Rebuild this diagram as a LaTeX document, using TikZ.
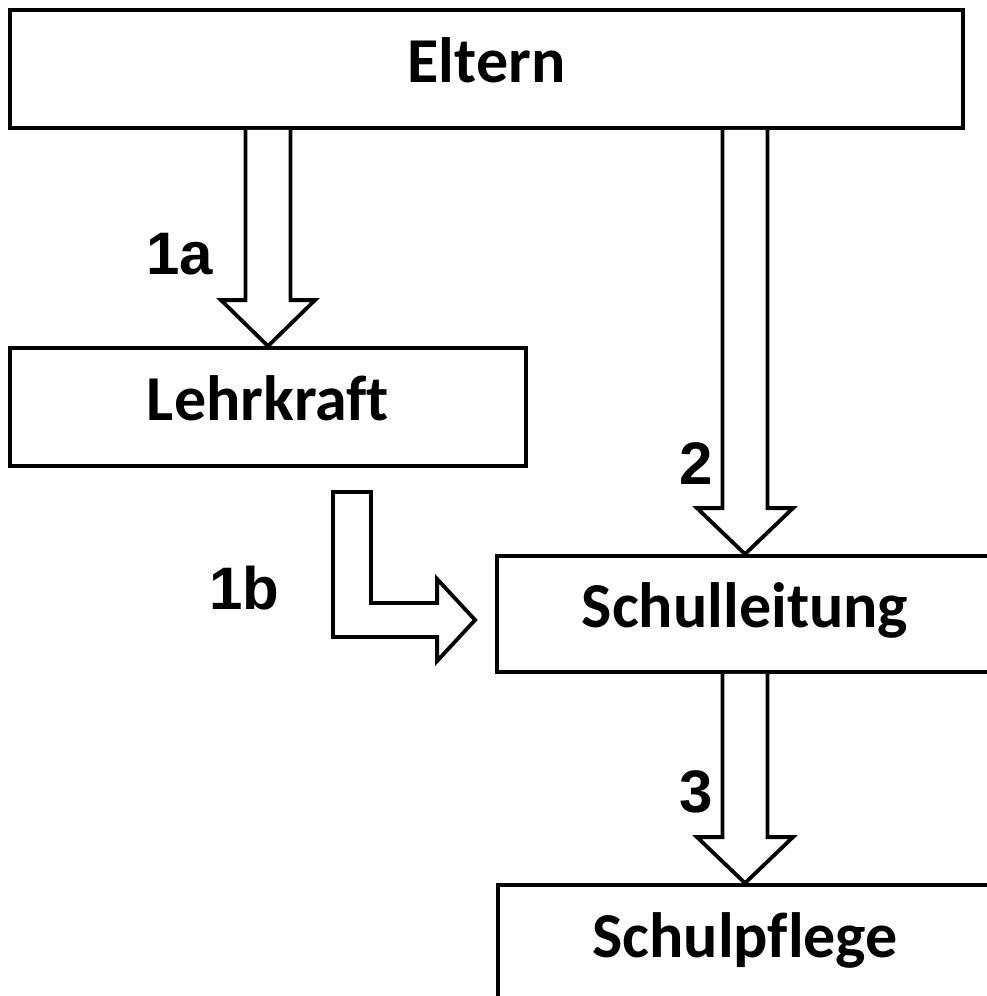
\documentclass[tikz,border=0pt]{standalone}
\usepackage{fontspec}
\setmainfont[Ligatures=NoCommon]{Carlito}
\newfontfamily\labfont{Liberation Sans}
\usetikzlibrary{calc}
\newcommand\varrow[5]{%
  \draw[barrow] let \p1=(#1), \p2=(#2) in
  (\x1-#3,\y1) -- (\x1-#3,\y2+#5) -- (\x1-#4,\y2+#5) -- (\x2,\y2)
  -- (\x1+#4,\y2+#5) -- (\x1+#3,\y2+#5) -- (\x1+#3,\y1);}
\begin{document}
\begin{tikzpicture}[x=1pt,y=-1pt,
  box/.style={draw, line width=3.8pt, fill=white,
    font=\bfseries\fontsize{64}{76}\selectfont,
    text height=40pt, text depth=13pt, inner sep=0pt},
  barrow/.style={draw, line width=3.8pt, fill=white, line join=miter},
  lab/.style={font=\labfont\bfseries\fontsize{60}{70}\selectfont,
    inner sep=0pt, anchor=base west}]
\useasboundingbox (0,0) rectangle (987,996);
\clip (0,0) rectangle (987,996);
\fill[white] (0,0) rectangle (987,996);

\node[box, minimum width=953pt, minimum height=118pt] (eltern) at (486.5,69) {Eltern};
\node[box, minimum width=516pt, minimum height=118pt] (lehr) at (268,407) {Lehrkraft};
\node[box, minimum width=496pt, minimum height=116pt] (sl) at (745,614) {Schulleitung};
\node[box, minimum width=494pt, minimum height=118pt] (sp) at (745,944) {Schulpflege};

\coordinate (a1s) at (eltern.south -| lehr.north);
\varrow{a1s}{lehr.north}{22.5pt}{47pt}{46pt}
\coordinate (a2s) at (eltern.south -| sl.north);
\varrow{a2s}{sl.north}{22.5pt}{48pt}{46pt}
\varrow{sl.south}{sp.north}{22.5pt}{48pt}{46pt}

\coordinate (b1s) at ($(lehr.south)+(84,24)$);
\coordinate (b1e) at ($(sl.west)+(-20,6)$);
\draw[barrow] let \p1=(b1s), \p2=(b1e) in
  (\x1-19pt,\y1) -- (\x1-19pt,\y2-17pt) -- (\x2-38pt,\y2-17pt)
  -- (\x2-38pt,\y2-41pt) -- (\x2,\y2) -- (\x2-38pt,\y2+41pt)
  -- (\x2-38pt,\y2+17pt) -- (\x1+19pt,\y2+17pt) -- (\x1+19pt,\y1) -- cycle;

\node[lab] (l1a) at (146,274) {1a};
\node[lab] (l2) at (679,484) {2};
\node[lab] (l3) at (679,812) {3};
\node[lab] (l1b) at (209,609) {1b};
\end{tikzpicture}
\end{document}
